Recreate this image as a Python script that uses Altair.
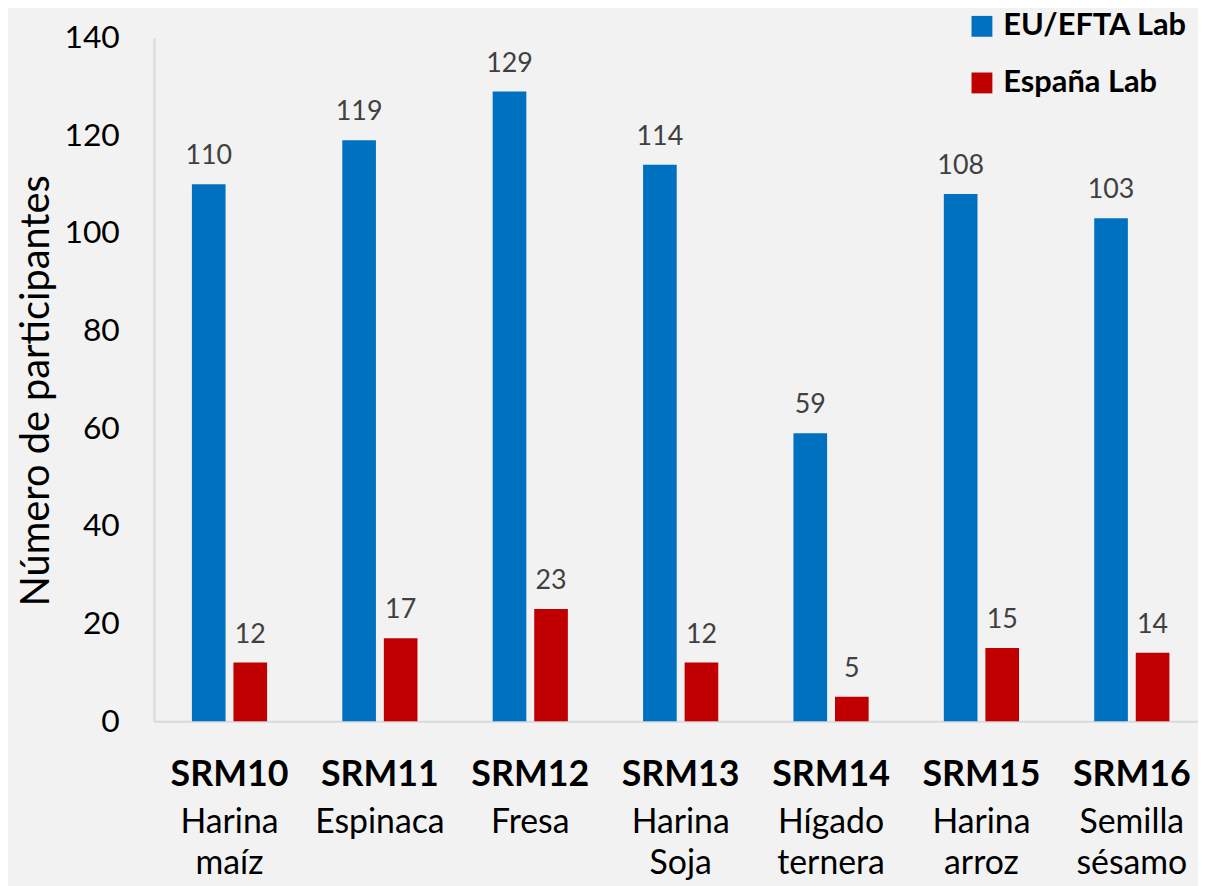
import altair as alt
import pandas as pd

codes = ["SRM10", "SRM11", "SRM12", "SRM13", "SRM14", "SRM15", "SRM16"]
descs = ["Harina\nmaíz", "Espinaca", "Fresa", "Harina\nSoja", "Hígado\nternera", "Harina\narroz", "Semilla\nsésamo"]
eu_values = [110, 119, 129, 114, 59, 108, 103]
es_values = [12, 17, 23, 12, 5, 15, 14]
series = ["EU/EFTA Lab", "España Lab"]
colors = ["#0070C0", "#C00000"]
y_ticks = [0, 20, 40, 60, 80, 100, 120, 140]

rows = []
for c, a, b in zip(codes, eu_values, es_values):
    rows.append({"code": c, "series": series[0], "value": a})
    rows.append({"code": c, "series": series[1], "value": b})
df = pd.DataFrame(rows)
desc_df = pd.DataFrame({"code": codes, "desc": descs})

FONT = "Lato"

x_enc = alt.X(
    "code:N",
    sort=codes,
    scale=alt.Scale(paddingInner=0.5, paddingOuter=0.221, align=0.57),
    axis=alt.Axis(
        title=None,
        labelFont=FONT,
        labelFontSize=36,
        labelFontWeight="bold",
        labelColor="#000000",
        labelPadding=37,
        labelAngle=0,
        ticks=False,
        tickSize=0,
        domainColor="#D9D9D9",
        domainWidth=2,
    ),
)
xoff = alt.XOffset("series:N", sort=series, scale=alt.Scale(paddingInner=0.19))
y_enc = alt.Y(
    "value:Q",
    scale=alt.Scale(domain=[0, 140], nice=False),
    axis=alt.Axis(
        title="Número de participantes",
        titleFont=FONT,
        titleFontSize=40,
        titleFontWeight="normal",
        titleColor="#000000",
        titlePadding=8,
        titleY=355,
        values=y_ticks,
        labelFont=FONT,
        labelFontSize=32,
        labelColor="#000000",
        labelPadding=35,
        ticks=False,
        tickSize=0,
        grid=False,
        domainColor="#D9D9D9",
        domainWidth=2,
    ),
)

base = alt.Chart(df)
bars = base.mark_bar().encode(
    x=x_enc,
    xOffset=xoff,
    y=y_enc,
    color=alt.Color(
        "series:N",
        sort=series,
        scale=alt.Scale(domain=series, range=colors),
        legend=alt.Legend(
            title=None,
            orient="none",
            legendX=818,
            legendY=-27,
            symbolType="square",
            symbolSize=441,
            symbolStrokeWidth=0,
            labelFont=FONT,
            labelFontSize=31,
            labelFontWeight="bold",
            labelColor="#000000",
            labelOffset=6,
            labelLimit=0,
            rowPadding=25,
            padding=0,
        ),
    ),
)
labels = base.mark_text(
    font=FONT, fontSize=27, color="#404040", baseline="alphabetic", dy=-20
).encode(
    x=alt.X("code:N", sort=codes),
    xOffset=alt.XOffset("series:N", sort=series),
    y="value:Q",
    text="value:Q",
)
desc_text = alt.Chart(desc_df).mark_text(
    font=FONT, fontSize=34, color="#000000", baseline="alphabetic", lineBreak="\n", lineHeight=41
).encode(
    x=alt.X("code:N", sort=codes),
    y=alt.value(801),
    text="desc:N",
)

chart = (
    alt.layer(bars, labels, desc_text)
    .properties(
        width=1051,
        height=688,
        background="#F2F2F2",
        autosize=alt.AutoSizeParams(type="none"),
        padding={"left": 147, "top": 27, "right": 0, "bottom": 163},
    )
    .configure_view(stroke=None)
)

chart.save("out.html", embed_options={"renderer": "svg", "actions": False})
